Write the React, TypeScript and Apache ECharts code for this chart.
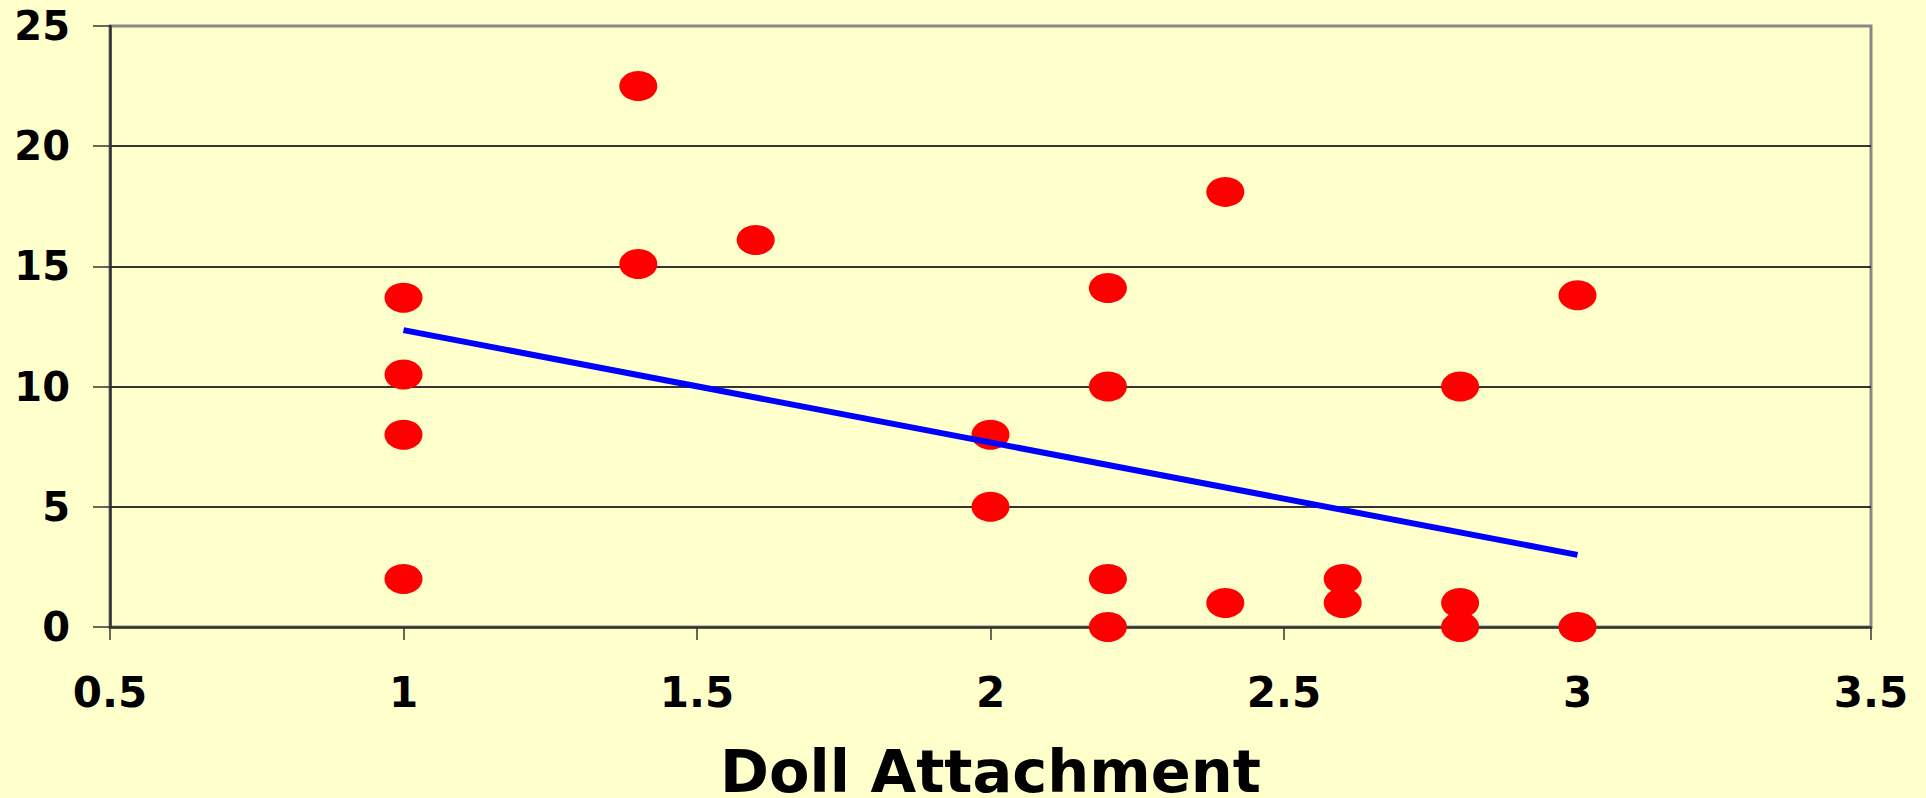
import React, { useEffect, useRef } from "react";
import * as echarts from "echarts";

// Doll attachment (x) vs. outcome (y)
const attachmentX: number[] = [1, 1, 1, 1, 1.4, 1.4, 1.6, 2, 2, 2.2, 2.2, 2.2, 2.2, 2.4, 2.4, 2.6, 2.6, 2.8, 2.8, 2.8, 3, 3];
const scoreY: number[] = [13.7, 10.5, 8, 2, 22.5, 15.1, 16.1, 8, 5, 14.1, 10, 2, 0, 18.1, 1, 2, 1, 10, 1, 0, 13.8, 0];

// Trend line end points
const trendX: number[] = [1, 3];
const trendY: number[] = [12.35, 3.0];

const xTicks = { min: 0.5, max: 3.5, interval: 0.5 };
const yTicks = { min: 0, max: 25, interval: 5 };

const xTitle = "Doll Attachment";

export default function App() {
  const ref = useRef<HTMLDivElement>(null);

  useEffect(() => {
    if (!ref.current) return;
    const chart = echarts.init(ref.current, null, { renderer: "svg" });
    const font = "DejaVu Sans";
    chart.setOption({
      animation: false,
      backgroundColor: "#FFFFCC",
      grid: {
        left: 110,
        right: 55,
        top: 26,
        bottom: 171,
        containLabel: false,
        outerBoundsMode: "none",
        show: true,
        backgroundColor: "#FFFFCC",
        borderColor: "#888888",
        borderWidth: 3,
      },
      xAxis: {
        type: "value",
        min: xTicks.min,
        max: xTicks.max,
        interval: xTicks.interval,
        axisLine: { show: true, onZero: false, lineStyle: { color: "#333333", width: 2.5 } },
        axisTick: { show: true, inside: false, length: 13, lineStyle: { color: "#333333", width: 1.5 } },
        splitLine: { show: false },
        axisLabel: {
          color: "#000000",
          fontFamily: font,
          fontWeight: "bold",
          fontSize: 42,
          margin: 44,
          showMinLabel: true,
          showMaxLabel: true,
        },
        name: xTitle,
        nameLocation: "middle",
        nameGap: 115,
        nameTextStyle: {
          color: "#000000",
          fontFamily: font,
          fontWeight: "bold",
          fontSize: 59,
        },
      },
      yAxis: {
        type: "value",
        min: yTicks.min,
        max: yTicks.max,
        interval: yTicks.interval,
        axisLine: { show: true, onZero: false, lineStyle: { color: "#333333", width: 2.5 } },
        axisTick: { show: true, inside: false, length: 17, lineStyle: { color: "#333333", width: 1.5 } },
        splitLine: {
          show: true,
          showMinLine: false,
          showMaxLine: false,
          lineStyle: { color: "#333333", width: 2 },
        },
        axisLabel: {
          color: "#000000",
          fontFamily: font,
          fontWeight: "bold",
          fontSize: 40,
          margin: 40,
        },
      },
      series: [
        {
          type: "scatter",
          data: attachmentX.map((x, i) => [x, scoreY[i]]),
          symbol: "circle",
          symbolSize: [38, 30],
          itemStyle: { color: "#FF0000", opacity: 1 },
          z: 2,
        },
        {
          type: "line",
          data: trendX.map((x, i) => [x, trendY[i]]),
          symbol: "none",
          lineStyle: { color: "#0000FF", width: 6 },
          z: 3,
        },
      ],
    });
    return () => chart.dispose();
  }, []);

  return (
    <div
      ref={ref}
      style={{ position: "absolute", left: 0, top: 0, width: 1926, height: 798 }}
    />
  );
}
